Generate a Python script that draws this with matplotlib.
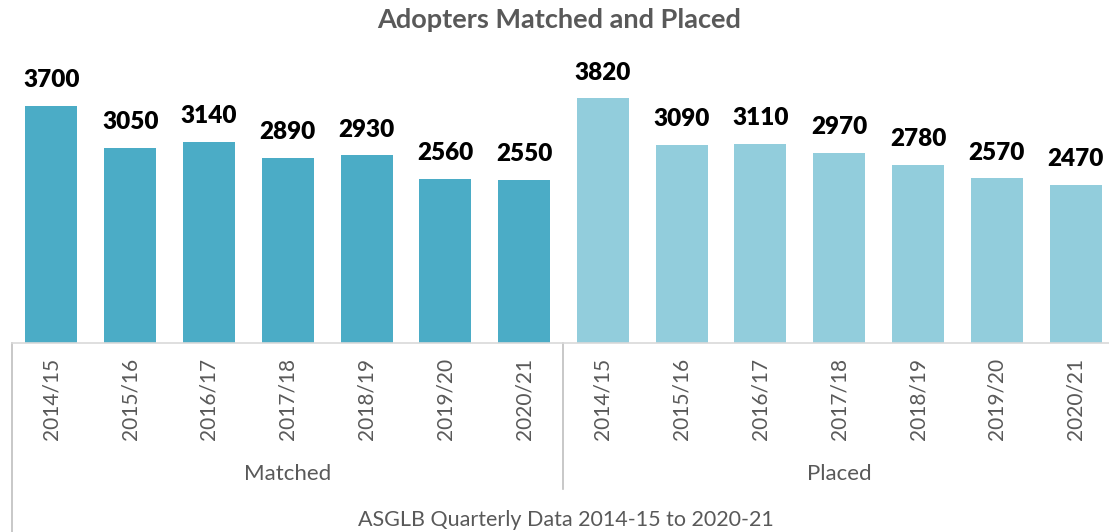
import numpy as np
import matplotlib.pyplot as plt

plt.rcParams['font.family'] = ['Lato', 'DejaVu Sans']

years = ['2014/15', '2015/16', '2016/17', '2017/18', '2018/19', '2019/20', '2020/21']
groups = ['Matched', 'Placed']
matched = [3700, 3050, 3140, 2890, 2930, 2560, 2550]
placed = [3820, 3090, 3110, 2970, 2780, 2570, 2470]

c_matched = '#4BACC6'
c_placed = '#92CDDC'
grey = '#595959'

W, H = 1109, 532
fig = plt.figure(figsize=(W / 100, H / 100), dpi=100)
# axes in pixel terms: left 12, right ~1115, top 40, baseline 343
ax = fig.add_axes([12 / W, (H - 343) / H, (1115 - 12) / W, (343 - 40) / H])

n = len(years)
x1 = np.arange(n)
x2 = np.arange(n) + n
ax.bar(x1, matched, width=0.66, color=c_matched)
ax.bar(x2, placed, width=0.66, color=c_placed)

for xs, vals in ((x1, matched), (x2, placed)):
    for xi, v in zip(xs, vals):
        ax.annotate(str(v), (xi, v), xytext=(0, 13.5), textcoords='offset points',
                    ha='center', va='baseline', fontsize=17.5, fontweight='heavy', color='black')

ax.set_xlim(-0.5, 2 * n - 0.5)
ax.set_ylim(0, 4731)
ax.set_yticks([])
ax.set_xticks([])
for s in ('top', 'right', 'left'):
    ax.spines[s].set_visible(False)
ax.spines['bottom'].set_color('#D9D9D9')
ax.spines['bottom'].set_linewidth(1.2)

tr = ax.get_xaxis_transform()
ah = 343 - 40
for xi, lab in zip(np.concatenate([x1, x2]), years * 2):
    ax.text(xi, -15 / ah, lab, transform=tr, rotation=90, ha='center', va='top',
            fontsize=15, color=grey)

for i, g in enumerate(groups):
    ax.text(i * n + (n - 1) / 2, -131 / ah, g, transform=tr, ha='center', va='center',
            fontsize=16, color=grey)

ax.plot([-0.5, -0.5], [0, -190 / ah], transform=tr, color='#BFBFBF', lw=1.2, clip_on=False)
ax.plot([n - 0.5, n - 0.5], [0, -146 / ah], transform=tr, color='#BFBFBF', lw=1.2, clip_on=False)

fig.text(566 / W, (H - 520) / H, 'ASGLB Quarterly Data 2014-15 to 2020-21', ha='center',
         va='center', fontsize=15.5, color=grey)
fig.text(559 / W, (H - 20) / H, 'Adopters Matched and Placed', ha='center', va='center',
         fontsize=19.5, fontweight='bold', color=grey)

fig.savefig('out.png', dpi=100)
